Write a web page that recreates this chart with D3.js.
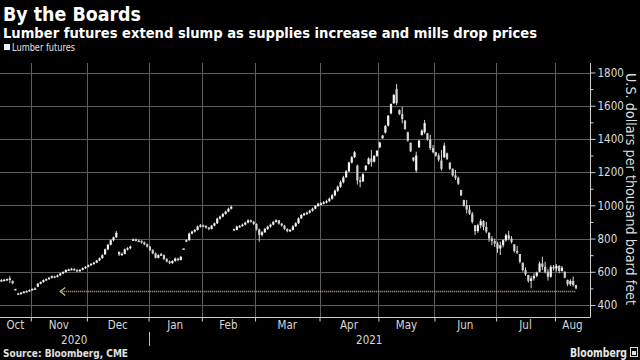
<!DOCTYPE html>
<html><head><meta charset="utf-8">
<script src="https://cdn.jsdelivr.net/npm/d3@7"></script>
<style>
html,body{margin:0;padding:0;background:#000;}
svg{display:block;}
</style></head><body>
<svg id="c" width="640" height="360"></svg>
<script>
// Daily lumber futures candles: [open, high, low, close], Oct 2020 - Aug 2021
const candlesOct = [
[546,556,542,550],[550,558,545,552],[552,560,548,556],[556,575,532,560],[545,548,525,530],
[497,497,497,497],[470,474,462,466],[466,478,464,474],[474,484,472,480],[480,488,478,484],[484,494,482,490]];
const candlesNov = [
[490,500,488,497],[497,506,494,500],[510,532,508,528],[528,542,524,538],[538,554,534,550],
[550,560,546,556],[556,570,552,564],[564,578,560,573],[573,576,562,570],[570,584,566,578],
[578,594,575,590],[590,604,586,598],[598,616,594,610],[610,620,604,614],[614,624,608,618],
[618,620,606,612],[612,614,598,604],[604,616,600,612],[612,626,608,622],[622,634,618,630]];
const candlesDec = [
[630,644,626,640],[640,652,636,648],[648,660,644,655],[655,672,652,668],[668,686,664,682],
[682,705,678,700],[705,740,702,735],[735,768,730,763],[763,795,758,790],[790,812,784,808],
[808,845,804,835],[720,722,695,705],[705,716,698,708],[708,740,705,735],[735,748,728,742],
[742,758,735,752],[790,800,786,795],[795,800,782,788],[788,794,778,785],[785,790,770,778],
[778,782,760,765],[765,770,746,752]];
const candlesJan = [
[752,756,724,730],[730,736,706,711],[711,716,680,684],[684,706,680,700],[700,714,696,706],
[700,704,672,676],[676,682,656,662],[662,668,646,652],[652,670,648,665],[665,686,660,680],
[680,684,664,671],[671,696,668,690],[741,741,741,741],[786,795,782,790],[790,836,788,830],
[830,848,826,842],[842,858,836,852],[852,878,848,872],[872,888,866,880]];
const candlesFeb = [
[880,884,868,876],[876,880,860,866],[866,870,850,858],[858,882,855,878],[878,896,874,892],
[892,926,888,920],[920,938,914,932],[932,954,928,948],[948,968,944,962],[962,986,958,980],
[980,998,975,992],[858,860,845,852],[852,878,850,872],[872,882,866,876],[876,890,872,884],
[884,902,880,896],[896,916,892,910],[910,914,896,902],[902,906,882,888]];
const candlesMar = [
[888,892,848,855],[855,860,781,822],[822,845,812,838],[838,864,834,858],[858,878,852,872],
[872,890,866,884],[884,906,880,900],[900,916,896,910],[910,912,884,890],[890,894,872,878],
[878,882,852,858],[858,862,838,845],[845,858,840,852],[852,880,848,874],[874,898,870,892],
[892,928,888,922],[922,948,918,942],[942,956,936,950],[950,962,944,956],[956,974,950,968],
[968,986,962,980],[980,1002,976,996],[996,1016,990,1010]];
const candlesApr = [
[1010,1020,1000,1012],[1012,1026,1006,1018],[1018,1034,1012,1025],[1025,1048,1020,1040],
[1040,1068,1034,1060],[1060,1096,1055,1088],[1088,1120,1080,1112],[1112,1150,1105,1140],
[1140,1178,1132,1168],[1170,1213,1165,1205],[1205,1263,1200,1258],[1258,1297,1252,1290],
[1290,1327,1285,1320],[1240,1245,1125,1150],[1150,1173,1109,1140],[1145,1193,1140,1188],
[1213,1243,1208,1238],[1249,1289,1245,1282],[1282,1333,1233,1260],[1263,1303,1258,1298],
[1298,1333,1292,1328]];
const candlesMay = [
[1350,1383,1345,1378],[1404,1424,1400,1420],[1438,1484,1432,1478],[1480,1544,1475,1540],
[1554,1614,1548,1610],[1615,1671,1610,1665],[1700,1731,1604,1615],[1574,1578,1544,1550],
[1550,1594,1494,1520],[1510,1514,1454,1460],[1440,1444,1383,1390],[1377,1378,1321,1325],
[1289,1290,1263,1270],[1210,1323,1197,1300],[1350,1394,1345,1390],[1424,1458,1420,1450],
[1440,1514,1430,1495],[1434,1436,1389,1395],[1395,1424,1333,1345],[1345,1363,1313,1320]];
const candlesJun = [
[1320,1323,1293,1300],[1300,1313,1263,1275],[1270,1333,1209,1220],[1290,1377,1285,1360],
[1313,1318,1273,1280],[1257,1260,1213,1220],[1220,1223,1173,1180],[1180,1213,1153,1165],
[1165,1173,1123,1130],[1092,1094,1056,1060],[1032,1034,992,998],[1000,1032,952,975],
[975,1000,942,950],[950,960,890,900],[880,882,822,845],[845,890,835,880],
[880,918,862,905],[905,910,850,870],[870,900,832,842],[835,838,781,800],
[800,815,760,785],[785,800,750,770]];
const candlesJul = [
[770,781,715,740],[740,781,701,760],[760,795,747,790],[790,830,781,820],[820,847,790,800],
[800,815,771,780],[765,767,715,725],[725,755,707,720],[707,707,651,660],[655,655,601,610],
[610,627,575,585],[581,581,535,545],[545,575,501,560],[560,591,547,575],[575,601,567,595],
[600,661,598,650],[650,691,611,630],[630,661,590,600],[600,615,547,570],[570,641,565,630],
[630,641,607,620]];
const candlesAug = [
[620,647,601,635],[635,640,591,605],[605,635,600,625],[601,601,561,565],
[551,553,514,525],[525,555,514,545],[545,571,511,520],[520,521,495,500]];

const monthLabels = ["Oct","Nov","Dec","Jan","Feb","Mar","Apr","May","Jun","Jul","Aug"];
const yearLabels = ["2020","2021"];
const yearFirstMonth = [0, 3];            // index into monthLabels where each year starts
const yTicks = [400,600,800,1000,1200,1400,1600,1800];
const yMinorTicks = [500,700,900,1100,1300,1500,1700];
const arrowLevel = 485;                    // recent low marker
const arrowStartDay = 21;

const months = [candlesOct,candlesNov,candlesDec,candlesJan,candlesFeb,candlesMar,
                candlesApr,candlesMay,candlesJun,candlesJul,candlesAug];
const candles = months.flat();
const monthStarts = [];
{ let s = 0; months.forEach(m => { monthStarts.push(s); s += m.length; }); }
const lastDay = candles.length - 1;

const W = 640, H = 360;
const plotL = 0, plotR = 590, plotT = 63, plotB = 317;
const FONT = "'Liberation Sans Narrow','DejaVu Sans Condensed','Roboto Condensed',Roboto,sans-serif";
const BOLD = "'DejaVu Sans Condensed','Liberation Sans Narrow',Roboto,sans-serif";

const x = d3.scaleLinear().domain([-0.5, 210]).range([plotL, plotR]);
const y = d3.scaleLinear().domain([400, 1800]).range([305, 72.5]);

const svg = d3.select('#c');
svg.append('rect').attr('width', W).attr('height', H).attr('fill', '#000');

// Titles
svg.append('text').attr('x', 3).attr('y', 21).text('By the Boards')
  .attr('fill', '#fff').attr('font-family', BOLD).attr('font-weight', 'bold')
  .attr('font-size', 20).attr('textLength', 138).attr('lengthAdjust', 'spacingAndGlyphs');
svg.append('text').attr('x', 3).attr('y', 38)
  .text('Lumber futures extend slump as supplies increase and mills drop prices')
  .attr('fill', '#fff').attr('font-family', BOLD).attr('font-weight', 'bold')
  .attr('font-size', 14.5).attr('textLength', 534).attr('lengthAdjust', 'spacingAndGlyphs');

// Legend
svg.append('rect').attr('x', 4).attr('y', 44).attr('width', 6).attr('height', 6).attr('fill', '#f0f0f0');
svg.append('text').attr('x', 12).attr('y', 51).text('Lumber futures')
  .attr('fill', '#e0e0e0').attr('font-family', FONT).attr('font-size', 10.5)
  .attr('textLength', 63).attr('lengthAdjust', 'spacingAndGlyphs');

// Gridlines
const grid = svg.append('g').attr('stroke', '#5e5e5e').attr('stroke-width', 1);
grid.selectAll('line.hgrid').data(yTicks).join('line').attr('class', 'hgrid')
  .attr('x1', plotL).attr('x2', plotR)
  .attr('y1', d => Math.round(y(d)) + 0.5).attr('y2', d => Math.round(y(d)) + 0.5);
const bounds = monthStarts.slice(1);
grid.selectAll('line.vgrid').data(bounds).join('line').attr('class', 'vgrid')
  .attr('x1', d => Math.round(x(d - 0.5)) + 0.5).attr('x2', d => Math.round(x(d - 0.5)) + 0.5)
  .attr('y1', plotT).attr('y2', plotB);

// Y axis (right)
const yAxis = svg.append('g').attr('transform', `translate(${plotR + 0.5},0)`)
  .call(d3.axisRight(y).tickValues(yTicks).tickSize(5).tickPadding(2).tickFormat(d3.format('d')));
yAxis.select('.domain').remove();
yAxis.selectAll('line').attr('stroke', '#d0d0d0');
yAxis.selectAll('text').attr('fill', '#dcdcdc').attr('font-family', FONT).attr('font-size', 11.5);
const yMinor = svg.append('g').attr('transform', `translate(${plotR + 0.5},0)`)
  .call(d3.axisRight(y).tickValues(yMinorTicks).tickSize(3).tickFormat(''));
yMinor.select('.domain').remove();
yMinor.selectAll('line').attr('stroke', '#d0d0d0');
svg.append('line').attr('x1', plotR + 0.5).attr('x2', plotR + 0.5).attr('y1', plotT).attr('y2', plotB + 0.5)
  .attr('stroke', '#d0d0d0');

// Y axis title
svg.append('text').attr('transform', `translate(626,189) rotate(90)`).attr('text-anchor', 'middle')
  .text('U.S. dollars per thousand board feet').attr('fill', '#dcdcdc')
  .attr('font-family', FONT).attr('font-size', 13.5)
  .attr('textLength', 232).attr('lengthAdjust', 'spacingAndGlyphs');

// X axis
const xAxis = svg.append('g').attr('transform', `translate(0,${plotB + 0.5})`)
  .call(d3.axisBottom(x).tickValues(bounds.map(d => d - 0.5)).tickSize(4).tickFormat(''));
xAxis.select('.domain').attr('stroke', '#d0d0d0').attr('d', `M${plotL},0H${plotR}`);
xAxis.selectAll('line').attr('stroke', '#d0d0d0');

const edges = [x.range()[0]].concat(bounds.map(d => x(d - 0.5))).concat([x.range()[1]]);
svg.append('g').selectAll('text').data(monthLabels).join('text')
  .attr('x', (d, i) => (edges[i] + edges[i + 1]) / 2).attr('y', 329)
  .attr('text-anchor', 'middle').text(d => d)
  .attr('fill', '#d8d8d8').attr('font-family', FONT).attr('font-size', 11.5);

const yearEdges = yearFirstMonth.map(k => edges[k]).concat([edges[edges.length - 1]]);
svg.append('g').selectAll('text').data(yearLabels).join('text')
  .attr('x', (d, i) => (yearEdges[i] + yearEdges[i + 1]) / 2).attr('y', 344)
  .attr('text-anchor', 'middle').text(d => d)
  .attr('fill', '#d8d8d8').attr('font-family', FONT).attr('font-size', 11.5);
yearEdges.slice(1, -1).forEach(e => {
  svg.append('line').attr('x1', Math.round(e) + 0.5).attr('x2', Math.round(e) + 0.5)
    .attr('y1', 332).attr('y2', 346).attr('stroke', '#bbb');
});

// Candles
const cg = svg.append('g');
cg.selectAll('line.wick').data(candles).join('line').attr('class', 'wick')
  .attr('x1', (d, i) => x(i)).attr('x2', (d, i) => x(i))
  .attr('y1', d => y(d[1])).attr('y2', d => y(d[2]))
  .attr('stroke', '#d6d6d6').attr('stroke-width', 1);
cg.selectAll('rect.body').data(candles).join('rect').attr('class', 'body')
  .attr('x', (d, i) => x(i) - 1.1).attr('width', 2.2)
  .attr('y', d => Math.min(y(d[0]), y(d[3])))
  .attr('height', d => Math.max(1.5, Math.abs(y(d[0]) - y(d[3]))))
  .attr('fill', d => d[3] >= d[0] ? '#f2f2f2' : '#d2d2d2');

// Arrow marking the level
const ay = Math.round(y(arrowLevel)) + 0.5;
const ax0 = x(arrowStartDay), ax1 = x(lastDay);
svg.append('line').attr('x1', ax0).attr('x2', ax1).attr('y1', ay).attr('y2', ay)
  .attr('stroke', '#c8b48e').attr('stroke-width', 1.5).attr('stroke-dasharray', '1,1');
svg.append('path').attr('d', `M${ax0 + 5},${ay - 4}L${ax0},${ay}L${ax0 + 5},${ay + 4}`)
  .attr('fill', 'none').attr('stroke', '#c8b48e').attr('stroke-width', 1.3);

// Footer
svg.append('text').attr('x', 3).attr('y', 357).text('Source: Bloomberg, CME')
  .attr('fill', '#e0e0e0').attr('font-family', BOLD).attr('font-weight', 'bold').attr('font-size', 10.5)
  .attr('textLength', 125).attr('lengthAdjust', 'spacingAndGlyphs');
svg.append('text').attr('x', 627).attr('y', 357).attr('text-anchor', 'end').text('Bloomberg')
  .attr('fill', '#e8e8e8').attr('font-family', BOLD).attr('font-weight', 'bold').attr('font-size', 12.5)
  .attr('textLength', 57).attr('lengthAdjust', 'spacingAndGlyphs');
svg.append('rect').attr('x', 630.5).attr('y', 347.5).attr('width', 7).attr('height', 9)
  .attr('fill', 'none').attr('stroke', '#e0e0e0').attr('stroke-width', 1);
svg.append('rect').attr('x', 632).attr('y', 351).attr('width', 4).attr('height', 4).attr('fill', '#e0e0e0');
</script>
</body></html>
